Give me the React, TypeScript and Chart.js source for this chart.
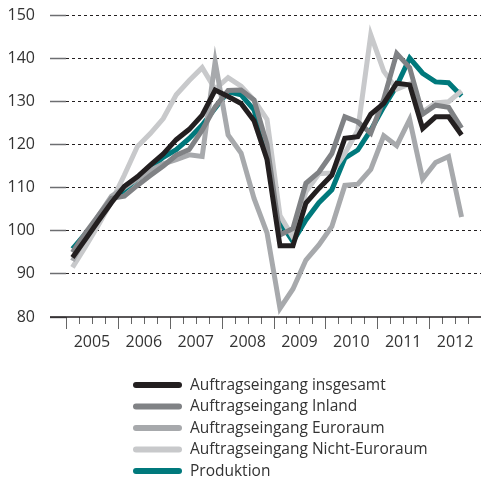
import React, { useEffect, useRef } from "react";
import { Chart, registerables } from "chart.js";

Chart.register(...registerables);

const years = ["2005", "2006", "2007", "2008", "2009", "2010", "2011", "2012"];
const quarters = ["Q1", "Q2", "Q3", "Q4"];
const yTicks = [80, 90, 100, 110, 120, 130, 140, 150];

const insgesamt = [93.8, 98, 102.3, 106.5, 110.3, 112.5, 115.2, 117.8, 121.1, 123.5, 126.8, 132.6, 131.1, 129.5, 125.5, 116.5, 96.5, 96.5, 106.4, 109.8, 112.9, 121.4, 121.8, 127, 129.5, 134.2, 133.8, 123.7, 126.4, 126.4, 122.2];
const inland = [95, 99.5, 103.5, 107.5, 108, 110.5, 112.8, 115, 117.5, 118.8, 123.3, 128.7, 132.5, 132.6, 130.3, 120, 99, 100.5, 111, 113.6, 117.9, 126.4, 125.2, 122.6, 130.5, 141.1, 137.8, 127, 129.1, 128.6, 123.8];
const euroraum = [93, 98.5, 103.5, 108, 110, 112, 114, 115.5, 116.5, 117.6, 117.2, 139.2, 122.2, 118, 107.5, 99.5, 82, 86.5, 93.2, 96.7, 101, 110.5, 110.8, 114.2, 122, 119.7, 125.8, 112, 115.8, 117.2, 103.2];
const nichtEuroraum = [91.5, 96.3, 101.3, 106.7, 112.9, 119.5, 122.5, 126, 131.5, 134.8, 137.8, 132.8, 135.5, 133.5, 130.3, 125.8, 103.5, 98.5, 109, 113.2, 113.4, 117.9, 123.3, 145.4, 137, 132.8, 134, 127.5, 129.6, 129.9, 132.4];
const produktion = [95.8, 99.3, 103, 107, 109.5, 112, 114.5, 117, 118.8, 121.4, 124.5, 128.4, 132.2, 131.5, 128, 117, 102, 97.5, 102.5, 106.5, 109.5, 116.8, 118.7, 123.3, 128.7, 133.6, 140, 136.5, 134.5, 134.3, 131.2];

const seriesNames = [
  "Auftragseingang insgesamt",
  "Auftragseingang Inland",
  "Auftragseingang Euroraum",
  "Auftragseingang Nicht-Euroraum",
  "Produktion",
];
const seriesColors = ["#231f20", "#808285", "#a7a9ac", "#c8c9cb", "#00797c"];
const seriesData = [insgesamt, inland, euroraum, nichtEuroraum, produktion];

const FONT = "'Open Sans', 'Noto Sans', sans-serif";
const TEXT = "#333333";

const axisPlugin = {
  id: "customAxis",
  afterDatasetsDraw(chart: any) {
    const ctx = chart.ctx;
    const xs = chart.scales.x;
    const ys = chart.scales.y;
    const yAxisY = ys.getPixelForValue(80);
    const n = xs.getLabels().length;
    const step = xs.getPixelForValue(1) - xs.getPixelForValue(0);
    ctx.save();
    ctx.strokeStyle = "#666";
    ctx.lineWidth = 1;
    for (let i = 0; i <= n; i++) {
      const x = Math.round(xs.getPixelForValue(0) - step / 2 + i * step) + 0.5;
      if (x > chart.width - 1) continue;
      const len = i % 4 === 0 ? 12 : 7;
      ctx.beginPath();
      ctx.moveTo(x, yAxisY);
      ctx.lineTo(x, yAxisY + len);
      ctx.stroke();
    }
    ctx.strokeStyle = "#231f20";
    ctx.lineWidth = 1.5;
    ctx.beginPath();
    ctx.moveTo(ys.right - ys.options.grid.tickLength, yAxisY);
    ctx.lineTo(chart.width, yAxisY);
    ctx.stroke();
    ctx.restore();
  },
};

const legendPlugin = {
  id: "customLegend",
  afterDraw(chart: any) {
    const ctx = chart.ctx;
    ctx.save();
    ctx.font = `15.5px ${FONT}`;
    ctx.textBaseline = "middle";
    ctx.fillStyle = TEXT;
    chart.data.datasets.forEach((ds: any, i: number) => {
      const y = 385 + i * 21.5;
      ctx.strokeStyle = ds.borderColor;
      ctx.lineWidth = 6;
      ctx.lineCap = "round";
      ctx.beginPath();
      ctx.moveTo(136, y);
      ctx.lineTo(179, y);
      ctx.stroke();
      ctx.fillText(ds.label, 190, y + 0.5);
    });
    ctx.restore();
  },
};

export default function App() {
  const ref = useRef<HTMLCanvasElement>(null);
  useEffect(() => {
    if (!ref.current) return;
    const labels = years.flatMap((y) => quarters.map((q) => `${y} ${q}`));
    const chart = new Chart(ref.current, {
      type: "line",
      data: {
        labels,
        datasets: seriesNames.map((name, i) => ({
          label: name,
          data: seriesData[i],
          borderColor: seriesColors[i],
          backgroundColor: seriesColors[i],
          borderWidth: 5,
          pointRadius: 0,
          borderJoinStyle: "miter" as const,
          tension: 0,
        })),
      },
      options: {
        responsive: false,
        animation: false,
        layout: { autoPadding: false, padding: { left: 0, right: 0, top: 15, bottom: 0 } },
        plugins: { legend: { display: false }, tooltip: { enabled: false } },
        scales: {
          x: {
            type: "category",
            offset: true,
            grid: { display: false, drawTicks: false },
            border: { display: false },
            ticks: {
              autoSkip: false,
              maxRotation: 0,
              minRotation: 0,
              labelOffset: 6.5,
              padding: 16,
              color: TEXT,
              font: { family: FONT, size: 16 },
              callback: (_v: any, i: number) => (i % 4 === 1 ? years[Math.floor(i / 4)] : ""),
            },
            afterFit: (s: any) => {
              s.height = 164;
              s.paddingLeft = 0;
              s.paddingRight = 0;
            },
          },
          y: {
            min: 80,
            max: 150,
            afterBuildTicks: (s: any) => {
              s.ticks = yTicks.map((v) => ({ value: v }));
            },
            ticks: { padding: 15, color: TEXT, font: { family: FONT, size: 16 } },
            grid: {
              color: (c: any) => (c.tick && c.tick.value === 80 ? "rgba(0,0,0,0)" : "#231f20"),
              lineWidth: 1,
              borderDash: [3, 3],
              tickColor: "#6d6e71",
              tickLength: 16,
              tickWidth: 1.5,
              tickBorderDash: [],
            } as any,
            border: { display: false, dash: [3, 3] },
            afterFit: (s: any) => {
              s.width = 66;
              s.paddingTop = 0;
              s.paddingBottom = 0;
            },
          },
        },
      },
      plugins: [axisPlugin, legendPlugin],
    });
    return () => chart.destroy();
  }, []);
  return (
    <div style={{ position: "fixed", left: 0, top: 0, width: 481, height: 481, background: "#fff" }}>
      <canvas ref={ref} width={481} height={481} />
    </div>
  );
}
